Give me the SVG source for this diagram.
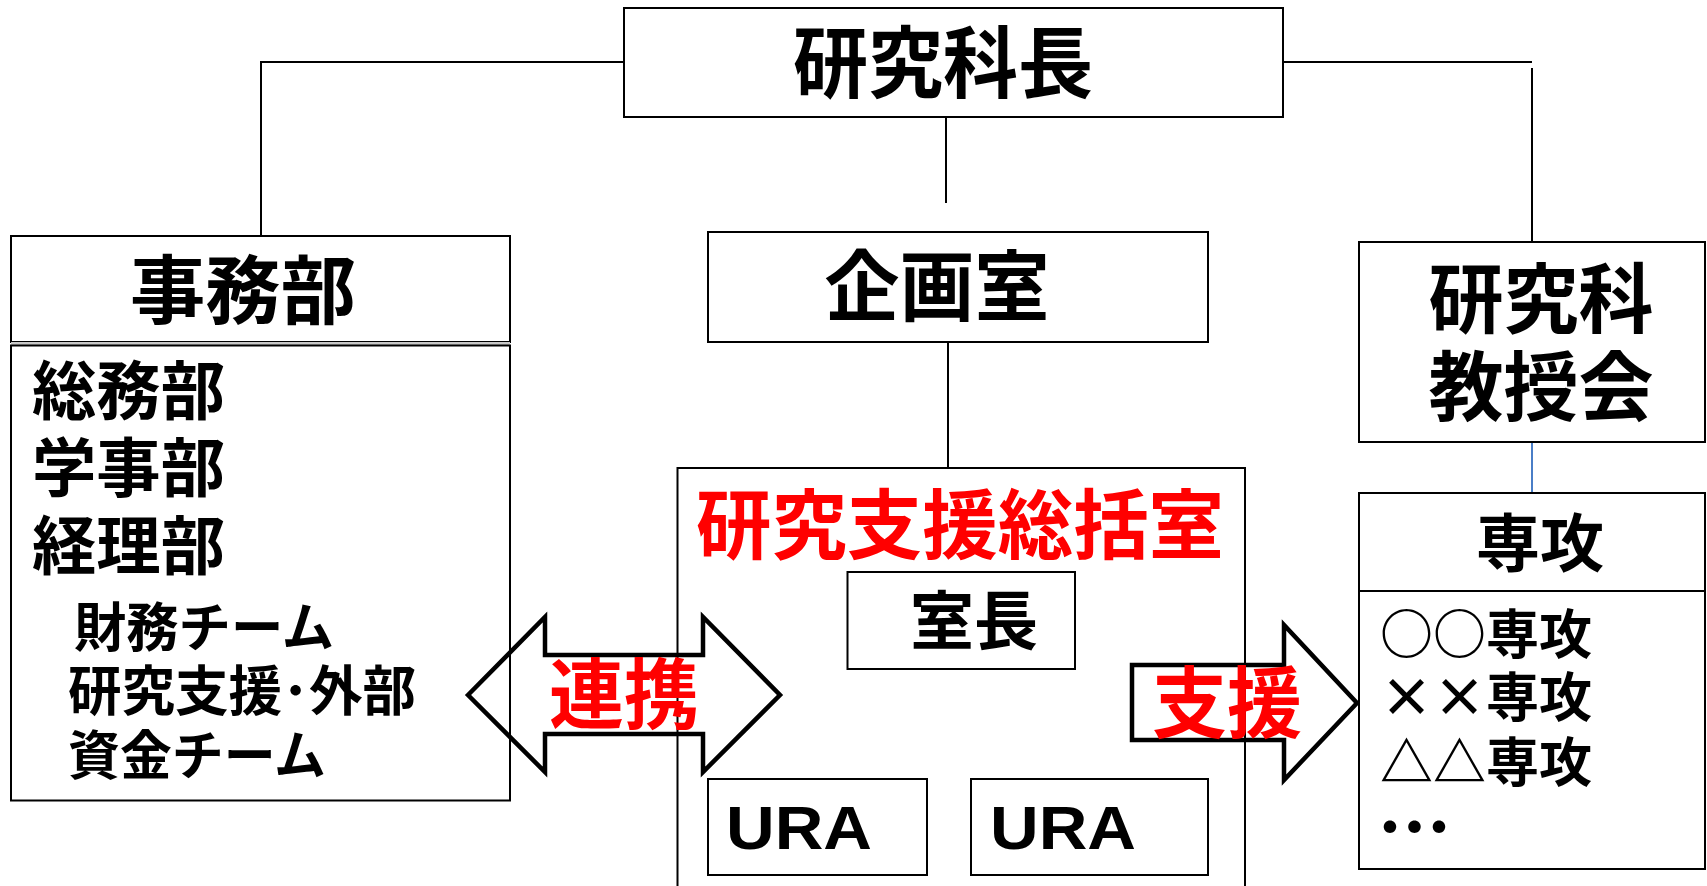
<svg xmlns="http://www.w3.org/2000/svg" width="1707" height="886" viewBox="0 0 1707 886">
<style>
.box{fill:#fff;stroke:#000;stroke-width:2}
.ln{fill:none;stroke:#000;stroke-width:2}
.jp{font-family:"Noto Sans CJK JP","Noto Sans",sans-serif;font-weight:bold;fill:#000}
.red{fill:#ff0000}
.en{font-family:"Liberation Sans",Arial,sans-serif;font-weight:bold;fill:#000}
.arr{fill:none;stroke:#000;stroke-width:4.5;stroke-linejoin:miter}
</style>
<rect width="1707" height="886" fill="#fff"/>
<g id="connectors">
<polyline class="ln" points="624,62 261,62 261,236"/>
<line class="ln" x1="946" y1="117" x2="946" y2="203"/>
<line class="ln" x1="1283" y1="62" x2="1532" y2="62"/>
<line class="ln" x1="1532" y1="68" x2="1532" y2="242"/>
<line class="ln" x1="948" y1="342" x2="948" y2="473"/>
<line x1="1532" y1="443" x2="1532" y2="493" stroke="#4a7ec7" stroke-width="2"/>
</g>
<g id="node-kenkyukacho">
<rect class="box" x="624" y="8" width="659" height="109"/>
<text class="jp" x="943" y="92" font-size="78" text-anchor="middle" textLength="300" lengthAdjust="spacingAndGlyphs">研究科長</text>
</g>
<g id="node-jimubu">
<rect class="box" x="11" y="236" width="499" height="106"/>
<rect x="11" y="342" width="499" height="3.5" fill="#c8c8c8"/>
<rect class="box" x="11" y="345.5" width="499" height="455"/>
<text class="jp" x="243" y="318" font-size="75" text-anchor="middle" textLength="226" lengthAdjust="spacingAndGlyphs">事務部</text>
<text class="jp" x="32" y="414" font-size="64" textLength="193" lengthAdjust="spacingAndGlyphs">総務部</text>
<text class="jp" x="32" y="491" font-size="64" textLength="193" lengthAdjust="spacingAndGlyphs">学事部</text>
<text class="jp" x="32" y="569" font-size="64" textLength="193" lengthAdjust="spacingAndGlyphs">経理部</text>
<text class="jp" x="74" y="647" font-size="53" textLength="260" lengthAdjust="spacingAndGlyphs">財務チーム</text>
<text class="jp" x="68" y="711" font-size="54" textLength="348" lengthAdjust="spacingAndGlyphs">研究支援･外部</text>
<text class="jp" x="68" y="775" font-size="53" textLength="258" lengthAdjust="spacingAndGlyphs">資金チーム</text>
</g>
<g id="node-kikakushitsu">
<rect class="box" x="708" y="232" width="500" height="110"/>
<text class="jp" x="937" y="315" font-size="77" text-anchor="middle" textLength="225" lengthAdjust="spacingAndGlyphs">企画室</text>
</g>
<g id="node-kyojukai">
<rect class="box" x="1359" y="242" width="346" height="200"/>
<text class="jp" x="1541" y="327" font-size="76" text-anchor="middle" textLength="225" lengthAdjust="spacingAndGlyphs">研究科</text>
<text class="jp" x="1541" y="415" font-size="76" text-anchor="middle" textLength="225" lengthAdjust="spacingAndGlyphs">教授会</text>
</g>
<g id="node-sokatsushitsu">
<rect class="box" x="677.5" y="468" width="567.5" height="440"/>
<text class="jp red" x="960" y="553" font-size="76" text-anchor="middle" textLength="528" lengthAdjust="spacingAndGlyphs">研究支援総括室</text>
</g>
<g id="node-shitsucho">
<rect class="box" x="847.5" y="572" width="227.5" height="97"/>
<text class="jp" x="974" y="644" font-size="64" text-anchor="middle" textLength="128" lengthAdjust="spacingAndGlyphs">室長</text>
</g>
<g id="node-ura1">
<rect class="box" x="708" y="779" width="219" height="96"/>
<text class="en" x="726" y="849" font-size="61" textLength="146" lengthAdjust="spacingAndGlyphs">URA</text>
</g>
<g id="node-ura2">
<rect class="box" x="971" y="779" width="237" height="96"/>
<text class="en" x="990" y="849" font-size="61" textLength="146" lengthAdjust="spacingAndGlyphs">URA</text>
</g>
<g id="node-senko">
<rect class="box" x="1359" y="493" width="346" height="376"/>
<line class="ln" x1="1359" y1="591" x2="1705" y2="591"/>
<text class="jp" x="1540" y="566" font-size="63" text-anchor="middle" textLength="128" lengthAdjust="spacingAndGlyphs">専攻</text>
<text class="jp" x="1380" y="654" font-size="53" textLength="212" lengthAdjust="spacingAndGlyphs">○○専攻</text>
<text class="jp" x="1380" y="717" font-size="53" textLength="212" lengthAdjust="spacingAndGlyphs">××専攻</text>
<text class="jp" x="1380" y="782" font-size="53" textLength="212" lengthAdjust="spacingAndGlyphs">△△専攻</text>
<text class="jp" x="1374" y="851" font-size="64" textLength="81" lengthAdjust="spacing">･･･</text>
</g>
<g id="arrow-renkei">
<polygon class="arr" points="468,695 545,617 545,655 703,655 703,617 780,695 703,772 703,734 545,734 545,772"/>
<text class="jp red" x="624" y="723" font-size="77" text-anchor="middle" textLength="150" lengthAdjust="spacingAndGlyphs">連携</text>
</g>
<g id="arrow-shien">
<polygon class="arr" stroke-width="5" points="1132,665 1284,665 1284,625 1357,703 1284,780 1284,740 1132,740"/>
<text class="jp red" x="1227" y="732" font-size="78" text-anchor="middle" textLength="150" lengthAdjust="spacingAndGlyphs">支援</text>
</g>
</svg>
